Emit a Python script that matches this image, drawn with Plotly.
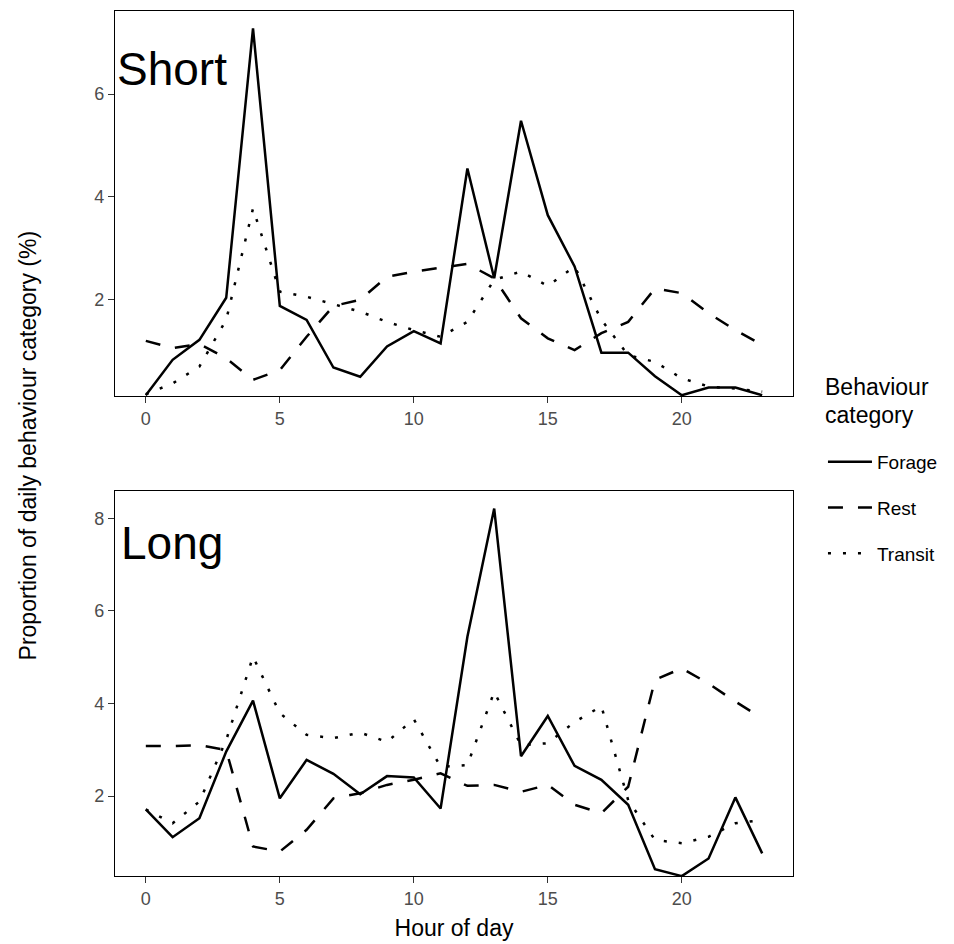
import plotly.graph_objects as go
from plotly.subplots import make_subplots

hours = list(range(24))

short_forage = [0.13, 0.82, 1.21, 2.03, 7.28, 1.87, 1.60, 0.67, 0.49, 1.08, 1.38, 1.14,
                4.55, 2.41, 5.48, 3.64, 2.64, 0.96, 0.96, 0.50, 0.13, 0.28, 0.28, 0.13]
short_rest = [1.19, 1.05, 1.13, 0.85, 0.43, 0.62, 1.27, 1.87, 1.99, 2.44, 2.54, 2.62,
              2.69, 2.41, 1.63, 1.24, 1.01, 1.34, 1.56, 2.21, 2.12, 1.73, 1.40, 1.11]
short_transit = [0.15, 0.36, 0.69, 1.60, 3.77, 2.15, 2.05, 1.91, 1.76, 1.56, 1.40, 1.27,
                 1.56, 2.38, 2.54, 2.26, 2.64, 1.60, 0.91, 0.78, 0.46, 0.30, 0.26, 0.20]

long_forage = [1.71, 1.11, 1.52, 2.96, 4.06, 1.95, 2.78, 2.48, 2.04, 2.43, 2.40, 1.73,
               5.44, 8.21, 2.86, 3.73, 2.65, 2.35, 1.81, 0.42, 0.27, 0.65, 1.97, 0.76]
long_rest = [3.08, 3.08, 3.10, 2.99, 0.91, 0.80, 1.27, 1.95, 2.06, 2.24, 2.35, 2.49,
             2.22, 2.24, 2.09, 2.24, 1.81, 1.63, 2.20, 4.51, 4.76, 4.43, 4.04, 3.68]
long_transit = [1.71, 1.41, 1.88, 3.21, 5.01, 3.79, 3.32, 3.25, 3.37, 3.17, 3.66, 2.63,
                2.67, 4.25, 3.10, 3.14, 3.60, 3.94, 1.91, 1.05, 0.98, 1.12, 1.41, 1.48]

categories = ["Forage", "Rest", "Transit"]
panels = ["Short", "Long"]
x_ticks = [0, 5, 10, 15, 20]

FONT = "Arial, Liberation Sans, Helvetica, sans-serif"
dashes = {"Forage": "solid", "Rest": "15px,15px", "Transit": "3px,12px"}

fig = make_subplots(rows=2, cols=1, vertical_spacing=0.1098)

data = {
    "Short": [short_forage, short_rest, short_transit],
    "Long": [long_forage, long_rest, long_transit],
}

for r, p in enumerate(panels, start=1):
    for cat, vals in zip(categories, data[p]):
        fig.add_trace(go.Scatter(
            x=hours, y=vals, mode="lines", name=cat,
            legendgroup=cat, showlegend=(r == 1),
            line=dict(color="black", width=2.5, dash=dashes[cat]),
        ), row=r, col=1)

axis_common = dict(
    showline=True, mirror=True, linecolor="black", linewidth=1.4,
    ticks="outside", ticklen=6, tickwidth=1.4, tickcolor="#333333",
    tickfont=dict(family=FONT, size=18, color="#4d4d4d"),
    showgrid=False, zeroline=False,
)

fig.update_xaxes(range=[-1.15, 24.15], tickvals=x_ticks, **axis_common)
fig.update_yaxes(**axis_common)
fig.update_yaxes(range=[0.115, 7.62], tickvals=[2, 4, 6], row=1, col=1)
fig.update_yaxes(range=[0.272, 8.59], tickvals=[2, 4, 6, 8], row=2, col=1)
fig.update_xaxes(title=dict(text="Hour of day", font=dict(family=FONT, size=23, color="black"),
                            standoff=12), row=2, col=1)

fig.update_layout(
    width=954, height=944,
    margin=dict(l=115, r=161, t=11, b=68, autoexpand=False),
    paper_bgcolor="white", plot_bgcolor="white",
    font=dict(family=FONT, color="black"),
    legend=dict(
        font=dict(family=FONT, size=19, color="black"),
        x=1.0442, xanchor="left", y=0.5006, yanchor="top",
        tracegroupgap=18, itemwidth=44, bgcolor="rgba(0,0,0,0)",
    ),
    annotations=[
        dict(text="Behaviour", xref="paper", yref="paper", x=1.0445, y=1 - (387 - 11) / 865,
             xanchor="left", yanchor="middle", showarrow=False,
             font=dict(family=FONT, size=23, color="black")),
        dict(text="category", xref="paper", yref="paper", x=1.0445, y=1 - (415 - 11) / 865,
             xanchor="left", yanchor="middle", showarrow=False,
             font=dict(family=FONT, size=23, color="black")),
        dict(text="Short", xref="x domain", yref="y domain", x=0.0, y=0.85,
             xanchor="left", yanchor="middle", showarrow=False,
             font=dict(family=FONT, size=46, color="black")),
        dict(text="Long", xref="x2 domain", yref="y2 domain", x=0.006, y=0.866,
             xanchor="left", yanchor="middle", showarrow=False,
             font=dict(family=FONT, size=46, color="black")),
        dict(text="Proportion of daily behaviour category (%)", xref="paper", yref="paper",
             x=-0.128, y=0.498, xanchor="center", yanchor="middle", textangle=-90,
             showarrow=False, font=dict(family=FONT, size=23, color="black")),
    ],
)

fig.write_html("out.html")
